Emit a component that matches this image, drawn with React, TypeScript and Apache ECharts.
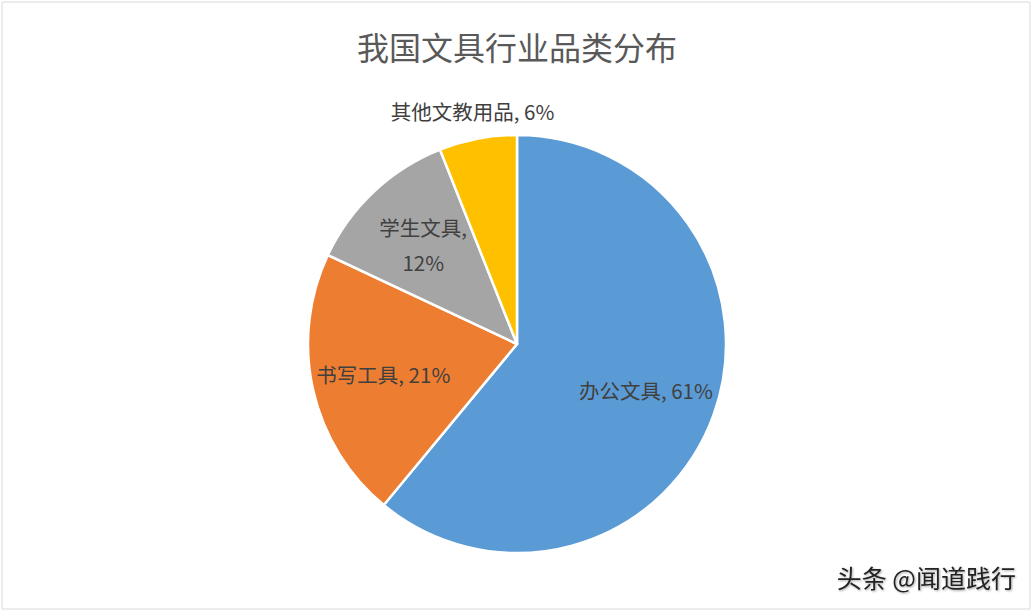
import React, { useEffect, useRef } from "react";
import * as echarts from "echarts";

const TITLE = "我国文具行业品类分布";
const categories = ["办公文具", "书写工具", "学生文具", "其他文教用品"];
const values = [61, 21, 12, 6];
const colors = ["#5B9BD5", "#ED7D31", "#A5A5A5", "#FFC000"];
const labelTexts = ["办公文具, 61%", "书写工具, 21%", "学生文具,\n12%", "其他文教用品, 6%"];
const insideShown = [true, true, true, false];
const WATERMARK = "头条 @闻道践行";

const FONT = "'Noto Sans CJK SC', 'Noto Sans', sans-serif";
const R = 209;

export default function App() {
  const ref = useRef<HTMLDivElement>(null);
  useEffect(() => {
    if (!ref.current) return;
    const chart = echarts.init(ref.current, null, { renderer: "svg" });
    const center = ["50%", 344];
    const labelStyle = {
      color: "#404040",
      fontSize: 20.5,
      fontFamily: FONT,
      lineHeight: 35,
    };
    const ghostData = (show: boolean[]) =>
      categories.map((name, i) => ({
        name,
        value: values[i],
        itemStyle: { color: "transparent", borderWidth: 0 },
        label: { show: show[i], formatter: labelTexts[i] },
      }));
    chart.setOption({
      animation: false,
      backgroundColor: "#ffffff",
      title: {
        text: TITLE,
        left: "center",
        top: 25,
        textStyle: { color: "#595959", fontSize: 32, fontWeight: "normal", fontFamily: FONT },
      },
      graphic: [
        {
          type: "rect",
          shape: { x: 2, y: 2, width: 1028, height: 607 },
          style: { fill: "none", stroke: "#d9d9d9", lineWidth: 1 },
          silent: true,
        },
        {
          type: "text",
          right: 18,
          top: 564,
          style: {
            text: WATERMARK,
            fill: "#222222",
            font: `25px ${FONT}`,
            textShadowColor: "rgba(0,0,0,0.35)",
            textShadowBlur: 2,
            textShadowOffsetX: 1,
            textShadowOffsetY: 1,
          },
          silent: true,
        },
      ],
      series: [
        {
          type: "pie",
          center,
          radius: [0, R],
          startAngle: 90,
          clockwise: true,
          label: { show: false },
          labelLine: { show: false },
          itemStyle: { borderColor: "#ffffff", borderWidth: 2.5 },
          emphasis: { disabled: true },
          silent: true,
          data: categories.map((name, i) => ({
            name,
            value: values[i],
            itemStyle: { color: colors[i] },
          })),
        },
        {
          type: "pie",
          center,
          radius: [Math.round(R * 0.28), R],
          startAngle: 90,
          clockwise: true,
          silent: true,
          emphasis: { disabled: true },
          label: { position: "inside", ...labelStyle },
          labelLine: { show: false },
          data: ghostData(insideShown),
        },
        {
          type: "pie",
          center,
          radius: [R, Math.round(R * 1.24)],
          startAngle: 90,
          clockwise: true,
          silent: true,
          emphasis: { disabled: true },
          label: { position: "inside", ...labelStyle },
          labelLine: { show: false },
          data: ghostData(insideShown.map((s) => !s)),
        },
      ],
    });
    return () => chart.dispose();
  }, []);
  return (
    <div
      ref={ref}
      style={{ position: "fixed", left: 0, top: 0, width: 1034, height: 614 }}
    />
  );
}
